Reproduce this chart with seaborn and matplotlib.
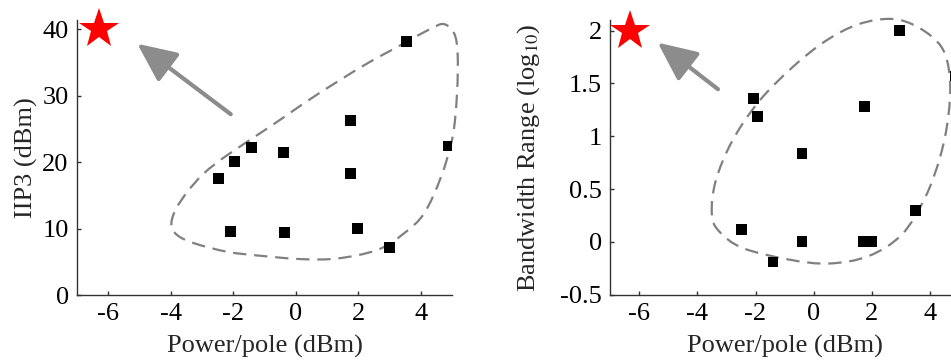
import numpy as np
import matplotlib
matplotlib.use("Agg")
import matplotlib.pyplot as plt
import seaborn as sns
from matplotlib.path import Path
from matplotlib.patches import PathPatch

# Measured designs: power per pole vs. IIP3 and bandwidth range
power_iip3 = [-2.48, -1.96, -1.42, -0.39, 1.74, 1.74, 3.55, 4.88, -2.08, -0.36, 1.98, 2.99]
iip3_dbm = [17.5, 20.1, 22.2, 21.4, 26.2, 18.3, 38.1, 22.4, 9.5, 9.4, 10.0, 7.2]

power_bw = [-2.08, -1.94, -0.40, 1.75, 2.96, 3.51, -2.47, -1.40, -0.40, 1.71, 2.00, 4.88]
bw_log10 = [1.36, 1.185, 0.84, 1.28, 2.0, 0.30, 0.12, -0.19, 0.0, 0.0, 0.0, 1.57]

# Target design (star)
target_power = [-6.3]
target_iip3 = [40]
target_bw = [2.0]

# Outline around the state of the art (closed loop, data coordinates)
hull_iip3_x = [-3.98, -3.85, -3.47, -2.94, -2.19, -0.80, 0.60, 2.20, 3.40, 4.33,
               4.75, 5.07, 5.18, 5.16, 5.02, 4.65, 4.11, 3.47,
               2.62, 1.34, 0.16, -1.12, -2.19, -3.26, -3.79]
hull_iip3_y = [10.5, 12.8, 15.5, 18.3, 21.05, 25.4, 29.9, 34.6, 37.7, 40.1,
               40.75, 39.35, 36.3, 30.3, 23.8, 17.8, 12.3, 9.3,
               6.8, 5.5, 5.4, 5.9, 6.5, 7.8, 9.0]

hull_bw_x = [-3.50, -3.37, -2.80, -1.88, -0.74, 0.40, 1.54, 2.68, 3.60, 4.40,
             4.68, 4.62, 4.34, 3.83, 3.03, 1.88, 0.51, -0.86, -2.45, -3.25]
hull_bw_y = [0.26, 0.575, 0.955, 1.33, 1.65, 1.90, 2.06, 2.11, 2.03, 1.84,
             1.55, 1.175, 0.80, 0.42, 0.07, -0.135, -0.205, -0.167, -0.057, 0.10]

# Improvement arrows (tail -> head)
arrow_iip3 = ((-2.08, 27.2), (-5.07, 37.8))
arrow_bw = ((-3.29, 1.445), (-5.36, 1.886))

x_ticks = [-6, -4, -2, 0, 2, 4]
FS = 19

sns.set_theme(style="ticks")
plt.rcParams["font.family"] = ["Liberation Serif", "DejaVu Serif"]
plt.rcParams["mathtext.fontset"] = "stix"

fig = plt.figure(figsize=(9.51, 3.6), dpi=100)


def closed_smooth_path(xs, ys):
    pts = np.column_stack([xs, ys])
    n = len(pts)
    verts = [pts[0]]
    codes = [Path.MOVETO]
    for i in range(n):
        p0 = pts[(i - 1) % n]
        p1 = pts[i]
        p2 = pts[(i + 1) % n]
        p3 = pts[(i + 2) % n]
        c1 = p1 + (p2 - p0) / 6.0
        c2 = p2 - (p3 - p1) / 6.0
        verts += [c1, c2, p2]
        codes += [Path.CURVE4] * 3
    return Path(verts, codes)


def style_axes(ax):
    for side in ("top", "right"):
        ax.spines[side].set_visible(False)
    for side in ("left", "bottom"):
        ax.spines[side].set_color("#333333")
        ax.spines[side].set_linewidth(1.0)
    ax.tick_params(direction="in", length=3, width=1, colors="#333333",
                   labelsize=FS, labelcolor="black", pad=6)


def draw_panel(ax, px, py, hx, hy, arrow, ty, ylabel, ylabelpad, ylim,
               yticks, yticklabels):
    patch = PathPatch(closed_smooth_path(hx, hy), facecolor="none",
                      edgecolor="#808080", lw=1.6, linestyle=(0, (6, 3.5)),
                      clip_on=False, zorder=2)
    ax.add_patch(patch)
    sns.scatterplot(x=px, y=py, ax=ax, marker="s", color="black", s=60,
                    edgecolor="none", zorder=3, legend=False)
    ax.plot(target_power, ty, marker="*", color="red", markersize=30,
            linestyle="none", clip_on=False, zorder=4, markeredgewidth=0)
    (tx0, ty0), (tx1, ty1) = arrow
    ax.annotate("", xy=(tx1, ty1), xytext=(tx0, ty0),
                arrowprops=dict(arrowstyle="-|>,head_length=1.2,head_width=0.55",
                                color="#8c8c8c", lw=3, mutation_scale=20,
                                shrinkA=0, shrinkB=0))
    ax.set_xlim(-7, 5)
    ax.set_ylim(*ylim)
    ax.set_xticks(x_ticks)
    ax.set_xticklabels([str(t) for t in x_ticks])
    ax.set_yticks(yticks)
    ax.set_yticklabels(yticklabels)
    ax.set_xlabel("Power/pole (dBm)", fontsize=FS, labelpad=7)
    ax.set_ylabel(ylabel, fontsize=FS, labelpad=ylabelpad)
    style_axes(ax)


ax1 = fig.add_axes([77 / 951, 65 / 360, 375 / 951, 274.5 / 360])
draw_panel(ax1, power_iip3, iip3_dbm, hull_iip3_x, hull_iip3_y, arrow_iip3,
           target_iip3, "IIP3 (dBm)", 3, (0, 41.3),
           [0, 10, 20, 30, 40], ["0", "10", "20", "30", "40"])

ax2 = fig.add_axes([610 / 951, 65.3 / 360, 349.2 / 951, 274.7 / 360])
draw_panel(ax2, power_bw, bw_log10, hull_bw_x, hull_bw_y, arrow_bw,
           target_bw, r"Bandwidth Range (log$_{10}$)", 13, (-0.5, 2.1),
           [-0.5, 0, 0.5, 1, 1.5, 2], ["-0.5", "0", "0.5", "1", "1.5", "2"])

fig.savefig("out.png", dpi=100)
